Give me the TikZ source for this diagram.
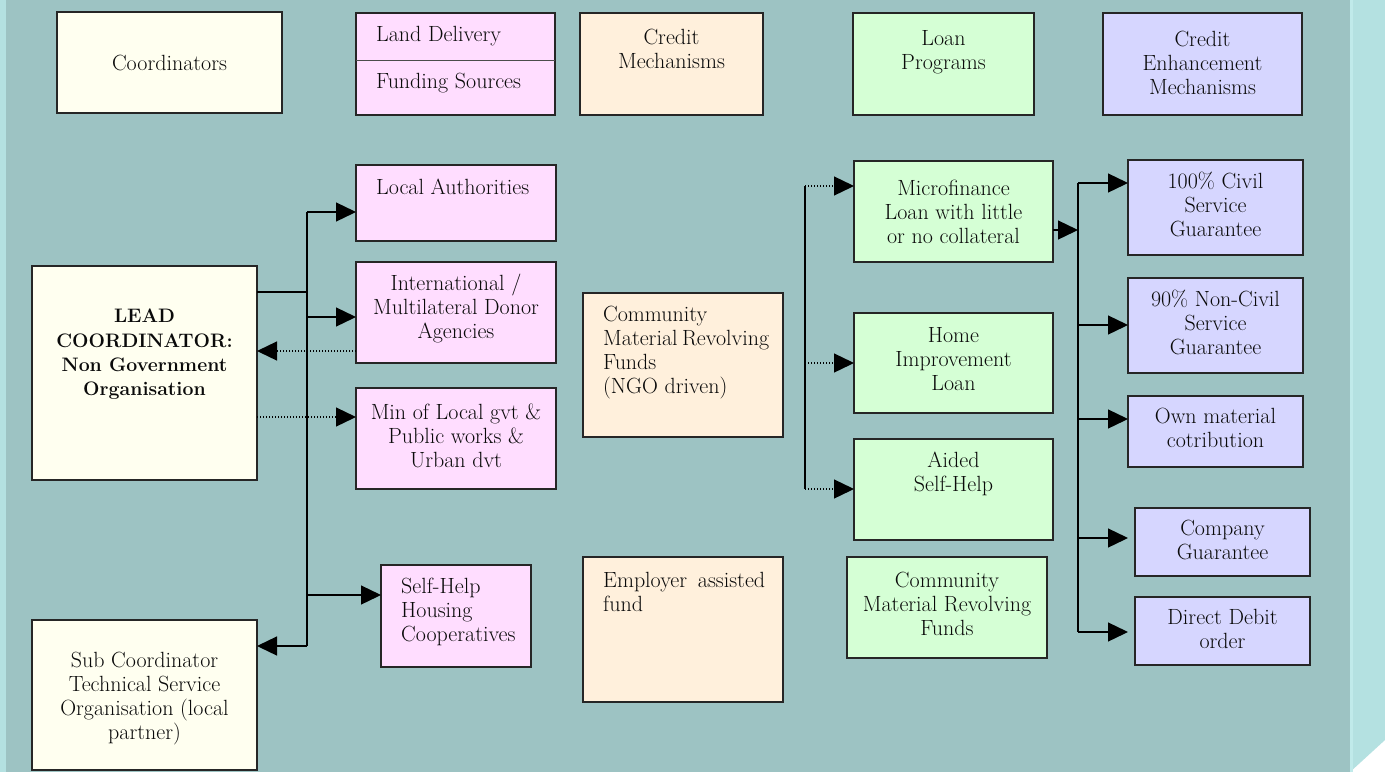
\documentclass[tikz,border=0pt]{standalone}
\usepackage{fontspec}
\usetikzlibrary{arrows.meta}
\definecolor{bgteal}{RGB}{157,195,195}
\definecolor{panelc}{RGB}{180,225,225}
\definecolor{panelline}{RGB}{192,234,234}
\definecolor{ivory}{RGB}{255,255,240}
\definecolor{pinkc}{RGB}{255,221,255}
\definecolor{peach}{RGB}{255,240,220}
\definecolor{greenc}{RGB}{213,255,213}
\definecolor{lav}{RGB}{214,214,255}
\definecolor{inkc}{RGB}{10,10,10}
\newcommand\mybox[6]{\node[box,fill=#6,minimum width={#4-#2},minimum height={#5-#3}] (#1) at ({(#2+#4)/2},{(#3+#5)/2}) {};}
\begin{document}
\begin{tikzpicture}[x=1pt,y=-1pt,
  box/.style={draw=black!85,line width=1.2pt,rectangle,inner sep=0pt,outer sep=0pt},
  txt/.style={inner sep=0pt,font=\fontsize{22}{24}\selectfont,text=inkc,align=center},
  conn/.style={line width=1.3pt,draw=black},
  arr/.style={-{Triangle[length=20pt,width=19pt]}},
  dotline/.style={dash pattern=on 1.4pt off 1.6pt}]
\useasboundingbox (0,0) rectangle (1385,772);
% background
\fill[white] (0,0) rectangle (1385,772);
\fill[bgteal] (6,0) rectangle (1350,772);
\fill[panelc] (0,0) rectangle (6,772);
\fill[panelc] (1350,0) -- (1385,0) -- (1385,740) -- (1350,772) -- cycle;
\fill[panelline] (1350,0) rectangle (1353,772);
% top row
\mybox{coord}{57}{12}{282}{113}{ivory}
\mybox{land}{356}{13}{555}{115}{pinkc}
\coordinate (ld) at (0,60);
\draw[draw=black!70,line width=1pt] (land.west |- ld) -- (land.east |- ld);
\mybox{credit}{580}{13}{763}{115}{peach}
\mybox{loan}{853}{13}{1034}{115}{greenc}
\mybox{enh}{1103}{13}{1302}{115}{lav}
% left column
\mybox{lead}{32}{266}{257}{480}{ivory}
\mybox{sub}{32}{620}{257}{770}{ivory}
% land delivery column
\mybox{la}{356}{165}{556}{241}{pinkc}
\mybox{intl}{356}{262}{556}{363}{pinkc}
\mybox{min}{356}{388}{556}{489}{pinkc}
\mybox{shc}{381}{565}{531}{667}{pinkc}
% credit mechanisms
\mybox{ngo}{583}{293}{783}{437}{peach}
\mybox{emp}{583}{557}{783}{702}{peach}
% loan programs
\mybox{micro}{854}{161}{1053}{262}{greenc}
\mybox{home}{854}{313}{1053}{413}{greenc}
\mybox{aided}{854}{439}{1053}{540}{greenc}
\mybox{cmrf}{847}{557}{1047}{658}{greenc}
% credit enhancement
\mybox{c100}{1128}{160}{1303}{255}{lav}
\mybox{c90}{1128}{278}{1303}{373}{lav}
\mybox{own}{1128}{396}{1303}{467}{lav}
\mybox{comp}{1135}{508}{1310}{576}{lav}
\mybox{debit}{1135}{597}{1310}{665}{lav}
% texts
\node[txt] (coord-t) at (169.5,62.5) {Coordinators};
\node[txt,anchor=west] (land-t1) at (376,36) {Land Delivery};
\node[txt,anchor=west] (land-t2) at (376,83) {Funding Sources};
\node[txt] (credit-t) at (671.5,48.5) {Credit\\Mechanisms};
\node[txt] (loan-t) at (943.5,52.5) {Loan\\Programs};
\node[txt] (enh-t) at (1202.5,63) {Credit\\Enhancement\\Mechanisms};
\node[txt,anchor=west] (la-t) at (376,187) {Local Authorities};
\node[txt] (intl-t) at (456,308) {International /\\Multilateral Donor\\Agencies};
\node[txt] (min-t) at (456,435.5) {Min of Local gvt \&\\Public works \&\\Urban dvt};
\node[txt,anchor=west,align=left] (shc-t) at (401,612) {Self-Help\\Housing\\Cooperatives};
\node[txt,font=\fontsize{19.5}{24.3}\selectfont\bfseries] (lead-t) at (144.5,354.5) {LEAD\\COORDINATOR:\\Non Government\\Organisation};
\node[txt] (sub-t) at (144.5,699) {Sub Coordinator\\Technical Service\\Organisation (local\\partner)};
\node[txt,anchor=west,align=left] (ngo-t) at (603,353) {Community\\\hbox to 164pt{Material\ \hfil Revolving}\\Funds\\(NGO driven)};
\node[txt,anchor=west,align=left] (emp-t) at (603,592) {\hbox to 162pt{Employer\ \hfil assisted}\\fund};
\node[txt] (micro-t) at (953.5,212) {Microfinance\\Loan with little\\or no collateral};
\node[txt] (home-t) at (953.5,359) {Home\\Improvement\\Loan};
\node[txt] (aided-t) at (953.5,473.5) {Aided\\Self-Help};
\node[txt] (cmrf-t) at (947,604) {Community\\Material Revolving\\Funds};
\node[txt] (c100-t) at (1215.5,204) {100\% Civil\\Service\\Guarantee};
\node[txt] (c90-t) at (1215.5,322) {90\% Non-Civil\\Service\\Guarantee};
\node[txt] (own-t) at (1215.5,427.5) {Own material\\cotribution};
\node[txt] (comp-t) at (1222.5,540) {Company\\Guarantee};
\node[txt] (debit-t) at (1222.5,629) {Direct Debit\\order};
% left trunk connectors
\coordinate (tL1) at (307,212);
\coordinate (tL2) at (307,646);
\coordinate (j1) at (307,292);
\coordinate (j2) at (307,317);
\coordinate (d1) at (307,351);
\coordinate (d2) at (307,417);
\coordinate (j4) at (307,595);
\draw[conn] (tL1) -- (tL2);
\draw[conn,arr] (tL1) -- (tL1 -| la.west);
\draw[conn] (j1 -| lead.east) -- (j1);
\draw[conn,arr] (j2) -- (j2 -| intl.west);
\draw[conn,dotline,arr] (d1 -| intl.west) -- (d1 -| lead.east);
\draw[conn,dotline,arr] (d2 -| lead.east) -- (d2 -| min.west);
\draw[conn,arr] (j4) -- (j4 -| shc.west);
\draw[conn,arr] (tL2) -- (tL2 -| sub.east);
% middle connectors
\coordinate (m1) at (805,186);
\coordinate (m2) at (805,489);
\coordinate (m3) at (805,363);
\draw[conn] (m1) -- (m2);
\draw[conn,dotline,arr] (m1) -- (m1 -| micro.west);
\draw[conn,dotline,arr] (m3) -- (m3 -| home.west);
\draw[conn,dotline,arr] (m2) -- (m2 -| aided.west);
% right connectors
\coordinate (r0) at (1078,230);
\coordinate (tR1) at (1078,183);
\coordinate (tR2) at (1078,632);
\coordinate (r2) at (1078,325);
\coordinate (r3) at (1078,419);
\coordinate (r4) at (1078,538);
\draw[conn] (tR1) -- (tR2);
\draw[conn,arr] (r0 -| micro.east) -- (r0);
\draw[conn,arr] (tR1) -- (tR1 -| c100.west);
\draw[conn,arr] (r2) -- (r2 -| c90.west);
\draw[conn,arr] (r3) -- (r3 -| own.west);
\draw[conn,arr,shorten >=7pt] (r4) -- (r4 -| comp.west);
\draw[conn,arr,shorten >=7pt] (tR2) -- (tR2 -| debit.west);
\end{tikzpicture}
\end{document}
